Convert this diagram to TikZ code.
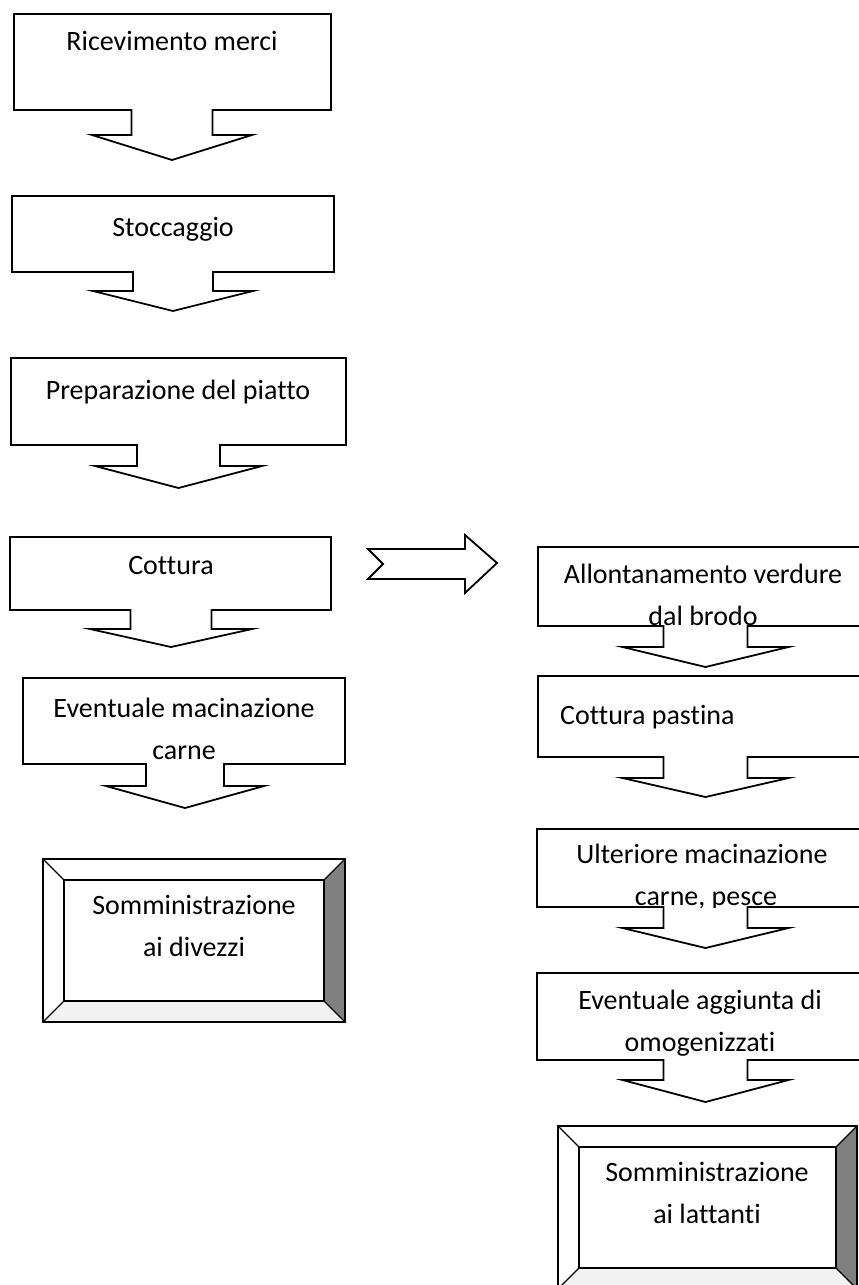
\documentclass[tikz,border=0pt]{standalone}
\usepackage{fontspec}
\setmainfont{Carlito}[Ligatures=NoCommon]
% #1 L, #2 T, #3 R, #4 B, #5 stem half width, #6 stem bottom, #7 wing half width, #8 tip y, #9 centre x
\newcommand\flowcallout[9]{%
  \draw[boxline] (#1,#2) -- (#3,#2) -- (#3,#4) -- ({#9+#5},#4) -- ({#9+#5},#6)
    -- ({#9+#7},#6) -- (#9,#8) -- ({#9-#7},#6) -- ({#9-#5},#6) -- ({#9-#5},#4)
    -- (#1,#4) -- cycle;}
% #1 L, #2 T, #3 R, #4 B, #5 bevel depth
\newcommand\flowbevel[5]{%
  \fill[white] (#1,#2) rectangle (#3,#4);
  \fill[rightbevel] (#3,#2) -- (#3,#4) -- ({#3-#5},{#4-#5}) -- ({#3-#5},{#2+#5}) -- cycle;
  \fill[bottombevel] (#1,#4) -- (#3,#4) -- ({#3-#5},{#4-#5}) -- ({#1+#5},{#4-#5}) -- cycle;
  \draw[boxline,fill=none] (#1,#2) rectangle (#3,#4);
  \draw[innerline] ({#1+#5},{#2+#5}) rectangle ({#3-#5},{#4-#5});
  \draw[innerline] (#1,#2) -- ({#1+#5},{#2+#5}) (#3,#2) -- ({#3-#5},{#2+#5})
    (#3,#4) -- ({#3-#5},{#4-#5}) (#1,#4) -- ({#1+#5},{#4-#5});}
\begin{document}
\begin{tikzpicture}[x=1pt,y=-1pt,line join=miter,
  boxline/.style={draw=black,line width=1.8pt,fill=white},
  innerline/.style={draw=black,line width=1.3pt},
  rightbevel/.style={fill=black!50},
  bottombevel/.style={fill=black!5},
  lbl/.style={anchor=base,inner sep=0pt,font=\fontsize{28}{42}\selectfont}]
\useasboundingbox (0,0) rectangle (859,1285);
\clip (0,0) rectangle (859,1285);

% ---------- left column ----------
\flowcallout{14}{14}{331}{110}{40.5}{135}{80}{160}{172}
\node[lbl] (ricev) at (172,50) {Ricevimento merci};

\flowcallout{12}{196}{334}{272}{40}{291}{80}{311}{173}
\node[lbl] (stocc) at (173,236) {Stoccaggio};

\flowcallout{11}{358}{346}{445}{41.5}{466}{83.5}{488}{178.5}
\node[lbl] (prep) at (178,399) {Preparazione del piatto};

\flowcallout{10}{537}{331}{610}{40.5}{629}{81}{647}{171}
\node[lbl] (cott) at (171,574) {Cottura};

\flowcallout{23}{678}{345}{764}{39}{786}{79}{808}{185}
\node[lbl] (macin1) at (184,717) {Eventuale macinazione};
\node[lbl] (macin2) at (184,759) {carne};

\flowbevel{43}{859}{345}{1022}{21}
\node[lbl] (divez1) at (194,914) {Somministrazione};
\node[lbl] (divez2) at (194,956) {ai divezzi};

% ---------- block arrow to the right ----------
\draw[boxline] (368,549) -- (465,549) -- (465,535) -- (497,563) -- (465,593)
  -- (465,579) -- (368,579) -- (383,564) -- cycle;

% ---------- right column ----------
\flowcallout{538}{547}{873}{626}{42}{647}{83}{667}{705.5}
\begin{scope}
\clip (538,547) rectangle (873,626);
\node[lbl] (allont1) at (703,583) {Allontanamento verdure};
\node[lbl] (allont2) at (703,625) {dal brodo};
\end{scope}

\flowcallout{538}{676}{873}{757}{42}{778}{83}{797}{705.5}
\node[lbl,anchor=base west] (pastina) at (560,724) {Cottura pastina};

\flowcallout{537}{829}{873}{907}{42}{928}{83}{948}{705.5}
\begin{scope}
\clip (537,829) rectangle (873,907);
\node[lbl] (ulter1) at (702,863) {Ulteriore macinazione};
\node[lbl] (ulter2) at (706,905) {carne, pesce};
\end{scope}

\flowcallout{537}{973}{873}{1060}{42}{1080}{83}{1102}{705.5}
\begin{scope}
\clip (537,973) rectangle (873,1060);
\node[lbl] (aggiun1) at (700,1009) {Eventuale aggiunta di};
\node[lbl] (aggiun2) at (700,1051) {omogenizzati};
\end{scope}

\flowbevel{558}{1126}{857}{1289}{21}
\node[lbl] (latt1) at (707,1181) {Somministrazione};
\node[lbl] (latt2) at (707,1223) {ai lattanti};
\end{tikzpicture}
\end{document}
